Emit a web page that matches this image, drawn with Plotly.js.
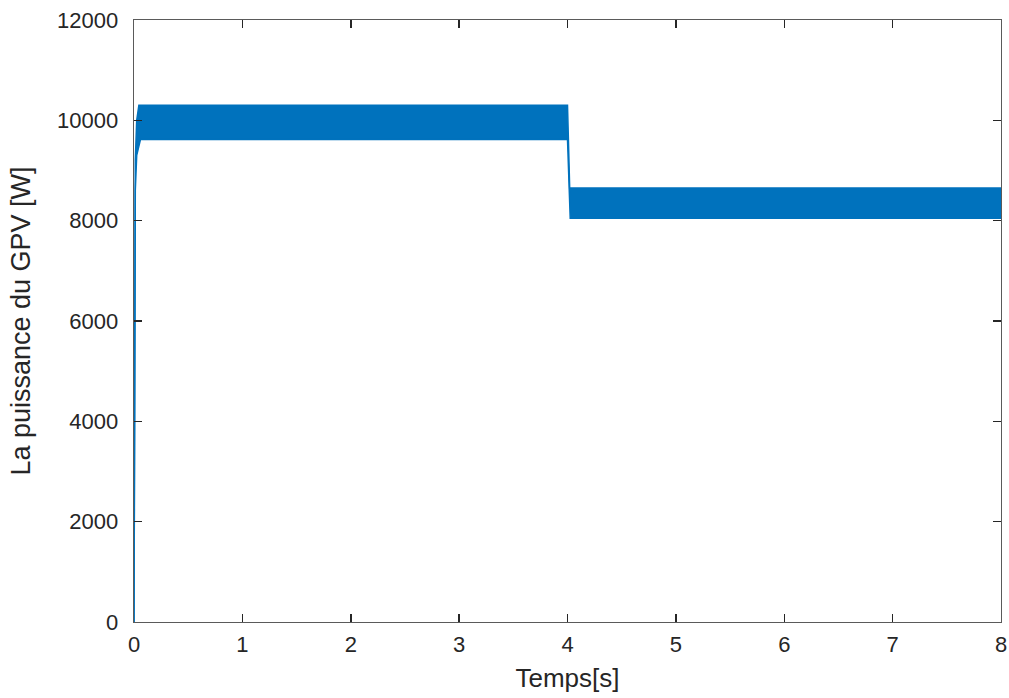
<!DOCTYPE html>
<html>
<head>
<meta charset="utf-8">
<script src="https://cdn.plot.ly/plotly-3.0.1.min.js"></script>
<style>html,body{margin:0;padding:0;background:#fff;}#chart{width:1009px;height:698px;}</style>
</head>
<body>
<div id="chart"></div>
<script>
// Upper envelope of the oscillating PV power (W) vs time (s)
const tUpper = [0, 0.004, 0.012, 0.025, 0.045, 3.995, 4.0, 4.02, 8.0];
const pUpper = [0, 6500, 9200, 10000, 10300, 10300, 10300, 8650, 8650];
// Lower envelope
const tLower = [0, 0.004, 0.012, 0.025, 0.06, 4.0, 4.018, 4.025, 8.0];
const pLower = [0, 6500, 8600, 9300, 9620, 9620, 8150, 8050, 8050];

const xTicks = [0, 1, 2, 3, 4, 5, 6, 7, 8];
const yTicks = [0, 2000, 4000, 6000, 8000, 10000, 12000];

const blue = '#0072BD';
const traces = [
  {x: tUpper, y: pUpper, mode: 'lines', line: {color: blue, width: 1.5}, hoverinfo: 'skip', showlegend: false},
  {x: tLower, y: pLower, mode: 'lines', fill: 'tonexty', fillcolor: blue, line: {color: blue, width: 1.5}, hoverinfo: 'skip', showlegend: false}
];

const fontFam = 'Liberation Sans, Arial, sans-serif';
const axisCommon = {
  showgrid: false, zeroline: false, showline: true, linecolor: '#5a5a5a', linewidth: 1.3,
  mirror: 'ticks', ticks: 'inside', ticklen: 8, tickwidth: 1.5, tickcolor: '#262626',
  tickfont: {family: fontFam, size: 22, color: '#262626'}
};

const layout = {
  width: 1009, height: 698,
  margin: {l: 134, r: 8, t: 20, b: 76},
  paper_bgcolor: '#fff', plot_bgcolor: '#fff',
  xaxis: Object.assign({}, axisCommon, {
    range: [0, 8], tickvals: xTicks, ticktext: xTicks.map(String), ticklabelstandoff: 2,
    title: {text: 'Temps[s]', font: {family: fontFam, size: 26, color: '#262626'}, standoff: 13}
  }),
  yaxis: Object.assign({}, axisCommon, {
    range: [0, 12000], tickvals: yTicks, ticktext: yTicks.map(String), ticklabelstandoff: 10,
    title: {text: 'La puissance du GPV [W]', font: {family: fontFam, size: 27, color: '#262626'}, standoff: 18}
  })
};

Plotly.newPlot('chart', traces, layout, {displayModeBar: false, staticPlot: true});
</script>
</body>
</html>
